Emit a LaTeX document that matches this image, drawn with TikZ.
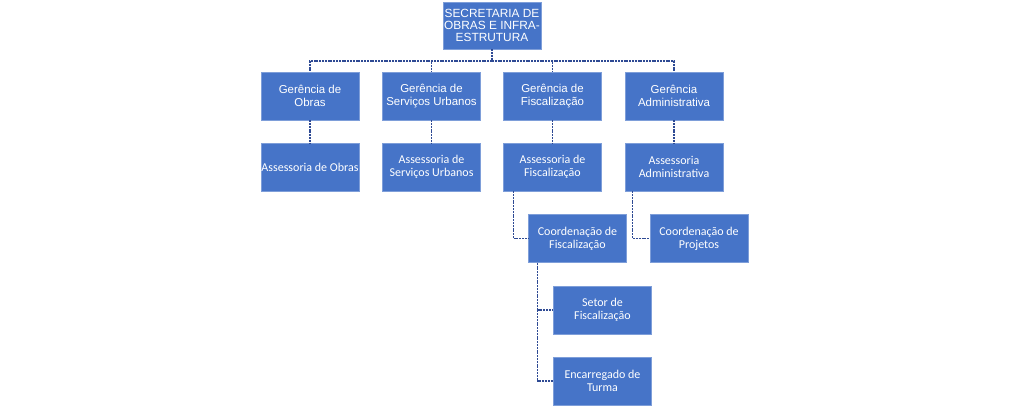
\documentclass[tikz,border=0pt]{standalone}
\usepackage{fontspec}
\setmainfont{Liberation Sans}
\newfontfamily\calib{Carlito}
\usetikzlibrary{positioning}
\definecolor{boxblue}{HTML}{4674C8}
\definecolor{linkblue}{HTML}{2E4A94}

\begin{document}
\begin{tikzpicture}[x=0.75pt,y=-0.75pt,
    unit/.style={draw=boxblue!70!white,line width=0.4pt,fill=boxblue,text=white,
      minimum width=73.5pt,minimum height=36pt,inner sep=0.5pt,align=center,
      font=\fontsize{8.6}{9.5}\selectfont},
    sub/.style={unit,font=\calib\fontsize{9}{9.8}\selectfont},
    link/.style={draw=linkblue,line width=0.8pt,dash pattern=on 1.5pt off 0.6pt}]
  \useasboundingbox (0,0) rectangle (1009,407);
  \node[unit,minimum height=35pt,font=\fontsize{8.9}{9.3}\selectfont] (sec) at (492,25.5) {SECRETARIA DE\\OBRAS E INFRA-\\ESTRUTURA};
  \node[unit] (gob) at (310,96) {Gerência de\\Obras};
  \node[unit] (gsu) at (431.5,96) {Gerência de\\Serviços Urbanos};
  \node[unit] (gfi) at (552.5,96) {Gerência de\\Fiscalização};
  \node[unit] (gad) at (674,96) {Gerência\\Administrativa};
  \node[sub] (aob) at (310,167) {Assessoria de Obras};
  \node[sub] (asu) at (431.5,167) {Assessoria de\\Serviços Urbanos};
  \node[sub] (afi) at (552.5,167) {Assessoria de\\Fiscalização};
  \node[sub] (aad) at (674,167) {Assessoria\\Administrativa};
  \node[sub] (cfi) at (577.5,238.5) {Coordenação de\\Fiscalização};
  \node[sub] (cpr) at (699,238.5) {Coordenação de\\Projetos};
  \node[sub] (sfi) at (602.5,310) {Setor de\\Fiscalização};
  \node[sub] (etu) at (602.5,381) {Encarregado de\\Turma};
  \coordinate (bus) at (492,61);
  % upper levels
  \draw[link] (sec) -- (bus);
  \foreach \g in {gob,gsu,gfi,gad}
    \draw[link] (bus) -| (\g.north);
  \path[link] (gob) edge (aob) (gsu) edge (asu) (gfi) edge (afi) (gad) edge (aad);
  % lower levels
  \draw[link] ([xshift=7.5pt]afi.south west) |- (cfi.west);
  \draw[link] ([xshift=6pt]aad.south west) |- (cpr.west);
  \draw[link] ([xshift=6.75pt]cfi.south west) |- (sfi.west);
  \draw[link] ([xshift=6.75pt]cfi.south west) |- (etu.west);
\end{tikzpicture}
\end{document}
